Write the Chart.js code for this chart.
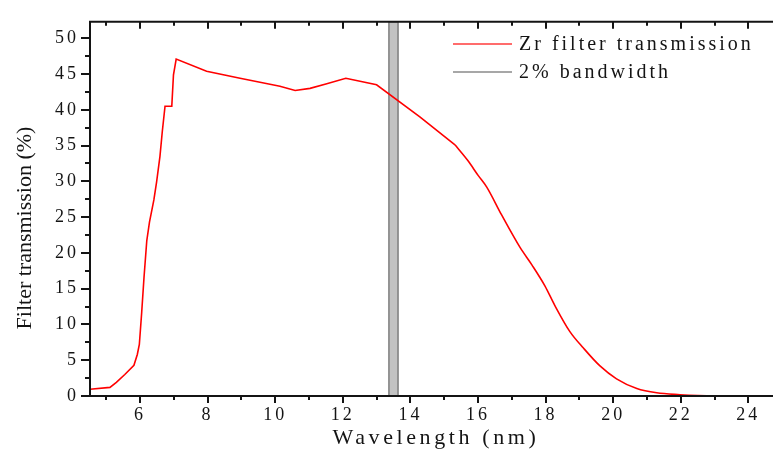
<!DOCTYPE html>
<html>
<head>
<meta charset="utf-8">
<script src="https://cdn.jsdelivr.net/npm/chart.js@4/dist/chart.umd.min.js"></script>
<style>
  html, body { margin: 0; padding: 0; background: #ffffff; }
  #wrap { width: 773px; height: 451px; }
</style>
</head>
<body>
<div id="wrap"><canvas id="c" width="773" height="451"></canvas></div>
<script>
// Zr filter transmission curve: wavelength (nm) and transmission (%)
const WAVELENGTH = [4.52, 5.11, 5.30, 5.55, 5.82, 5.92, 5.98, 6.05, 6.12, 6.20, 6.28, 6.41, 6.49, 6.59, 6.66, 6.74, 6.94, 6.99, 7.07,
  7.97, 8.96, 10.14, 10.59, 11.03, 11.5, 12.09, 13.0, 14.28, 15.32, 15.7, 16.01, 16.26, 16.7, 17.24, 17.6, 17.98, 18.28, 18.72,
  19.12, 19.61, 20.1, 20.7, 21.29, 21.98, 22.5, 23.0, 24.73];
const TRANSMISSION = [0.95, 1.2, 1.9, 3.0, 4.3, 5.8, 7.2, 11.7, 16.7, 21.7, 24.3, 27.4, 29.9, 33.5, 37.0, 40.5, 40.5, 44.9, 47.1,
  45.4, 44.4, 43.3, 42.7, 43.0, 43.6, 44.4, 43.5, 39.0, 35.1, 32.9, 30.8, 29.2, 25.3, 20.8, 18.3, 15.4, 12.6, 9.0,
  6.7, 4.2, 2.4, 1.05, 0.45, 0.18, 0.05, 0.0, 0.0];
// beyond this wavelength the roll-off is drawn as a smooth curve
const SMOOTH_FROM = 15.32;

// 2% bandwidth window around 13.5 nm
const BAND_CENTER = 13.5;
const BAND_FRACTION = 0.02;

// axis ranges and tick values
const X_RANGE = [4.52, 24.73];
const Y_RANGE = [0, 52.3];
const X_TICKS = [6, 8, 10, 12, 14, 16, 18, 20, 22, 24];
const X_MINOR = [5, 7, 9, 11, 13, 15, 17, 19, 21, 23];
const Y_TICKS = [0, 5, 10, 15, 20, 25, 30, 35, 40, 45, 50];
const Y_MINOR = [2.5, 7.5, 12.5, 17.5, 22.5, 27.5, 32.5, 37.5, 42.5, 47.5];

const SERIES_LABELS = ['Zr filter transmission', '2% bandwidth'];
const X_TITLE = 'Wavelength (nm)';
const Y_TITLE = 'Filter transmission (%)';

const SERIF = '"Liberation Serif", "DejaVu Serif", serif';
const INK = '#141414';
const RED = '#ff0000';

const curve = WAVELENGTH.map((x, i) => ({ x, y: TRANSMISSION[i] }));
const curveSharp = curve.filter(p => p.x <= SMOOTH_FROM);
const curveSmooth = curve.filter(p => p.x >= SMOOTH_FROM);
const bandLo = BAND_CENTER * (1 - BAND_FRACTION / 2);
const bandHi = BAND_CENTER * (1 + BAND_FRACTION / 2);
const band = [
  { x: bandLo, y: 0 }, { x: bandLo, y: Y_RANGE[1] },
  { x: bandHi, y: Y_RANGE[1] }, { x: bandHi, y: 0 }
];

// frame, tick marks, axis titles and legend
const decor = {
  id: 'decor',
  beforeDraw(chart) {
    chart.ctx.letterSpacing = '3px';
  },
  afterDraw(chart) {
    const { ctx, chartArea: a, scales: { x, y } } = chart;
    ctx.save();
    ctx.letterSpacing = '0px';
    ctx.strokeStyle = INK;
    ctx.lineWidth = 2;
    ctx.lineCap = 'butt';
    // axis lines: left, bottom, top
    ctx.beginPath();
    ctx.moveTo(a.left, a.top - 1); ctx.lineTo(a.left, a.bottom + 1);
    ctx.moveTo(a.left - 1, a.bottom); ctx.lineTo(a.right, a.bottom);
    ctx.moveTo(a.left - 1, a.top); ctx.lineTo(a.right, a.top);
    ctx.stroke();
    const seg = (x1, y1, x2, y2) => { ctx.moveTo(x1, y1); ctx.lineTo(x2, y2); };
    ctx.beginPath();
    X_TICKS.forEach(v => {
      const px = Math.round(x.getPixelForValue(v));
      seg(px, a.bottom, px, a.bottom + 7);
      seg(px, a.top, px, a.top + 7);
    });
    X_MINOR.forEach(v => {
      const px = Math.round(x.getPixelForValue(v));
      seg(px, a.bottom, px, a.bottom + 4);
      seg(px, a.top, px, a.top + 4);
    });
    Y_TICKS.forEach(v => {
      const py = Math.round(y.getPixelForValue(v));
      seg(a.left - 9, py, a.left, py);
    });
    Y_MINOR.forEach(v => {
      const py = Math.round(y.getPixelForValue(v));
      seg(a.left - 5, py, a.left, py);
    });
    ctx.stroke();

    // axis titles
    ctx.fillStyle = INK;
    ctx.textAlign = 'center';
    ctx.textBaseline = 'middle';
    ctx.font = '22px ' + SERIF;
    ctx.letterSpacing = '3.6px';
    ctx.fillText(X_TITLE, 436, 438);
    ctx.save();
    ctx.translate(25, 228);
    ctx.rotate(-Math.PI / 2);
    ctx.letterSpacing = '0px';
    ctx.font = '22px ' + SERIF;
    ctx.fillText(Y_TITLE, 0, 0);
    ctx.restore();

    // legend
    const rows = [45, 73];
    ctx.font = '20px ' + SERIF;
    ctx.letterSpacing = '3px';
    ctx.textAlign = 'left';
    chart.data.datasets.filter(ds => ds.legendColor).forEach((ds, i) => {
      ctx.strokeStyle = ds.legendColor;
      ctx.lineWidth = 1.6;
      ctx.beginPath();
      ctx.moveTo(453, rows[i] - 1); ctx.lineTo(512, rows[i] - 1);
      ctx.stroke();
      ctx.fillStyle = INK;
      ctx.fillText(ds.label, 519, rows[i]);
    });
    ctx.restore();
  }
};

new Chart(document.getElementById('c'), {
  type: 'line',
  data: {
    datasets: [
      {
        label: SERIES_LABELS[0],
        data: curveSharp,
        borderColor: RED,
        legendColor: '#ff3b3b',
        borderWidth: 1.6,
        pointRadius: 0,
        tension: 0,
        fill: false
      },
      {
        label: SERIES_LABELS[0],
        data: curveSmooth,
        borderColor: RED,
        borderWidth: 1.6,
        pointRadius: 0,
        cubicInterpolationMode: 'monotone',
        fill: false
      },
      {
        label: SERIES_LABELS[1],
        data: band,
        borderColor: '#7d7d7d',
        legendColor: '#8a8a8a',
        backgroundColor: '#c2c2c2',
        borderWidth: 1.5,
        pointRadius: 0,
        tension: 0,
        fill: 'origin'
      }
    ]
  },
  options: {
    responsive: false,
    devicePixelRatio: 1,
    animation: false,
    events: [],
    layout: { padding: { top: 12, right: 0, bottom: 0, left: 0 } },
    plugins: { legend: { display: false }, tooltip: { enabled: false } },
    scales: {
      x: {
        type: 'linear',
        min: X_RANGE[0],
        max: X_RANGE[1],
        afterBuildTicks: s => { s.ticks = X_TICKS.map(v => ({ value: v })); },
        afterFit: s => { s.height = 55; },
        grid: { display: false, drawTicks: false },
        border: { display: false },
        ticks: {
          autoSkip: false,
          maxRotation: 0,
          padding: 8,
          color: '#141414',
          font: { family: SERIF, size: 18 },
          callback: v => String(v)
        }
      },
      y: {
        type: 'linear',
        min: Y_RANGE[0],
        max: Y_RANGE[1],
        afterBuildTicks: s => { s.ticks = Y_TICKS.map(v => ({ value: v })); },
        afterFit: s => { s.width = 90; },
        grid: { display: false, drawTicks: false },
        border: { display: false },
        ticks: {
          autoSkip: false,
          padding: 11,
          color: '#141414',
          font: { family: SERIF, size: 18 },
          callback: v => String(v)
        }
      }
    }
  },
  plugins: [decor]
});
</script>
</body>
</html>
